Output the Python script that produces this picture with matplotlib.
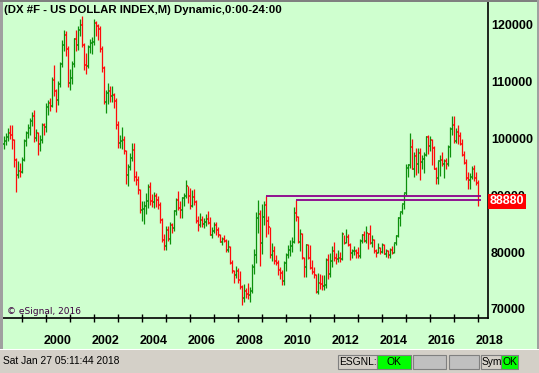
import numpy as np
import matplotlib
matplotlib.use("Agg")
import matplotlib.pyplot as plt
from matplotlib.collections import LineCollection
from matplotlib.patches import Rectangle

# monthly DX bars, Apr 1998 .. Jan 2018 (index points)
start_month = "1998-04"
first_open = 98.9
close = [
    99.4, 100.1, 100.9, 100.5, 99.6, 96.1, 93.5, 94.2, 94.0,                      # 1998 Apr-Dec
    96.2, 99.5, 100.9, 101.7, 102.9, 103.8, 100.0, 100.8, 98.9, 99.6, 102.2, 101.9,  # 1999
    105.5, 106.1, 105.6, 110.2, 108.3, 106.6, 109.5, 112.9, 116.3, 118.0, 115.6, 109.6,  # 2000
    110.6, 113.0, 117.3, 116.4, 119.0, 119.8, 116.3, 112.8, 112.6, 115.9, 116.6, 116.8,  # 2001
    120.2, 119.6, 119.1, 115.6, 112.3, 106.4, 107.9, 108.3, 107.4, 107.6, 106.5, 102.3,  # 2002
    99.2, 99.4, 99.6, 97.8, 93.5, 95.0, 96.5, 97.9, 93.1, 92.6, 90.8, 87.4,  # 2003
    87.6, 88.0, 88.9, 91.4, 88.9, 88.7, 89.9, 89.2, 88.3, 85.6, 82.1, 81.0,  # 2004
    83.8, 82.3, 84.7, 84.2, 87.2, 89.2, 87.8, 87.3, 89.4, 89.8, 91.5, 89.9,  # 2005
    88.0, 89.6, 88.7, 85.4, 84.8, 85.6, 85.0, 85.2, 85.8, 85.1, 83.0, 83.7,  # 2006
    84.8, 83.9, 83.0, 81.8, 82.2, 82.0, 80.3, 80.8, 78.1, 76.6, 76.0, 76.6,  # 2007
    75.0, 73.8, 72.0, 73.1, 72.7, 72.4, 73.1, 77.3, 79.4, 86.0, 86.6, 81.5,  # 2008
    86.2, 88.3, 85.4, 84.3, 79.5, 80.2, 78.4, 78.1, 76.8, 76.4, 74.9, 78.0,  # 2009
    79.5, 80.4, 81.0, 81.8, 86.8, 86.1, 81.7, 83.2, 79.0, 77.4, 81.2, 79.0,  # 2010
    77.2, 76.5, 75.9, 72.9, 74.6, 74.3, 74.0, 74.2, 78.6, 76.2, 78.5, 80.2,  # 2011
    79.0, 78.8, 79.0, 78.8, 83.2, 81.6, 82.6, 81.2, 79.9, 80.1, 80.2, 79.8,  # 2012
    79.3, 82.0, 83.0, 81.9, 83.4, 83.2, 81.5, 82.1, 80.2, 79.9, 80.7, 80.0,  # 2013
    81.2, 79.7, 80.1, 79.5, 80.4, 79.8, 81.5, 82.8, 86.0, 87.0, 88.4, 90.3,  # 2014
    94.8, 95.3, 98.4, 94.6, 96.9, 95.5, 97.3, 95.8, 96.4, 97.0, 100.2, 98.6,  # 2015
    99.6, 98.2, 94.6, 93.0, 95.9, 96.1, 95.5, 96.0, 95.4, 98.4, 101.5, 102.2,  # 2016
    99.5, 101.1, 100.4, 99.0, 97.0, 95.6, 92.9, 92.7, 93.1, 94.5, 93.0, 92.1,  # 2017
    88.88,  # 2018 Jan
]
high = [
    100.4, 100.9, 101.8, 102.2, 102.3, 99.9, 96.5, 96.0, 95.7,
    96.7, 99.8, 101.2, 102.5, 103.5, 104.6, 104.9, 101.6, 101.0, 100.5, 102.6, 102.7,
    106.2, 106.6, 107.0, 110.7, 112.8, 108.6, 110.0, 113.3, 117.2, 119.0, 118.8, 116.1,
    112.1, 113.5, 117.6, 118.9, 119.6, 120.8, 121.4, 116.7, 115.0, 116.3, 117.4, 117.8,
    120.9, 120.5, 120.0, 119.6, 116.2, 112.6, 108.4, 109.6, 109.1, 109.2, 107.9, 107.0,
    102.9, 100.6, 101.9, 100.3, 97.9, 95.5, 97.3, 99.2, 99.2, 94.2, 93.3, 91.1,
    89.0, 88.9, 90.4, 91.9, 92.2, 90.1, 90.6, 90.4, 89.9, 88.8, 86.0, 83.2,
    84.6, 84.6, 85.3, 85.1, 87.4, 89.5, 90.7, 88.9, 89.6, 90.3, 92.6, 91.6,
    91.3, 90.9, 91.0, 89.1, 86.3, 86.9, 86.4, 85.9, 86.6, 87.2, 86.2, 84.3,
    85.2, 85.2, 84.3, 83.2, 82.6, 82.9, 82.2, 82.1, 81.1, 78.6, 76.8, 77.6,
    77.2, 76.6, 74.2, 74.3, 73.7, 74.5, 73.9, 77.9, 80.5, 87.0, 89.2, 87.4,
    88.4, 89.0, 89.8, 86.3, 84.3, 81.5, 81.1, 79.5, 78.6, 77.3, 76.8, 78.5,
    79.9, 81.3, 82.1, 82.7, 87.9, 89.1, 86.3, 84.0, 83.4, 79.2, 81.4, 81.4,
    81.2, 78.6, 77.4, 76.2, 76.4, 76.1, 75.9, 76.0, 78.9, 79.6, 79.8, 81.0,
    81.8, 79.9, 80.3, 80.0, 83.5, 83.0, 84.1, 83.2, 81.6, 80.6, 81.0, 80.5,
    80.9, 82.2, 83.2, 83.6, 84.5, 83.4, 84.8, 82.9, 82.2, 80.6, 81.5, 80.9,
    81.5, 81.4, 80.6, 80.4, 80.7, 81.0, 81.6, 82.9, 86.1, 87.0, 88.5, 90.3,
    95.5, 95.5, 100.9, 99.9, 97.6, 98.3, 98.2, 98.3, 97.0, 97.5, 100.4, 100.5,
    100.3, 99.8, 98.6, 95.0, 96.0, 97.0, 97.6, 96.3, 96.5, 98.7, 102.0, 103.8,
    103.8, 101.8, 102.3, 101.0, 99.9, 97.8, 96.3, 94.1, 93.8, 95.1, 95.2, 94.0,
    92.7,
]
low = [
    98.0, 98.7, 99.4, 99.9, 98.0, 95.0, 90.6, 92.9, 93.1,
    93.8, 95.9, 98.6, 100.0, 100.6, 102.1, 99.3, 99.4, 97.0, 97.8, 99.2, 100.6,
    101.0, 104.1, 104.7, 105.4, 107.3, 104.6, 105.8, 108.9, 112.5, 115.2, 114.3, 109.0,
    108.5, 109.4, 112.4, 115.3, 115.5, 117.9, 115.9, 111.9, 111.2, 112.2, 114.9, 114.7,
    116.3, 117.9, 117.2, 115.1, 111.6, 106.0, 104.4, 106.0, 106.4, 106.3, 105.2, 101.6,
    98.3, 98.3, 98.0, 97.2, 91.9, 91.6, 94.3, 95.9, 92.5, 91.7, 90.1, 86.8,
    85.5, 84.9, 86.6, 87.8, 88.3, 87.9, 87.7, 87.9, 87.6, 85.1, 81.8, 80.4,
    80.4, 82.0, 81.4, 83.3, 83.6, 86.5, 87.3, 86.0, 86.0, 88.1, 89.4, 88.6,
    87.5, 87.9, 88.2, 85.1, 83.6, 84.3, 84.4, 84.2, 84.6, 84.9, 82.9, 82.4,
    83.4, 83.0, 82.7, 81.7, 81.3, 81.7, 80.0, 80.0, 77.9, 76.4, 74.6, 75.5,
    74.5, 73.5, 70.7, 71.3, 71.9, 71.7, 71.3, 72.8, 76.1, 78.1, 83.3, 77.6,
    79.6, 84.7, 82.6, 83.2, 79.0, 78.4, 77.9, 77.7, 76.0, 75.2, 74.2, 74.2,
    76.7, 79.0, 79.3, 80.0, 81.5, 85.5, 81.5, 80.2, 78.8, 75.6, 75.6, 78.8,
    77.0, 76.2, 75.5, 72.8, 72.7, 73.5, 73.4, 73.3, 73.6, 75.2, 75.6, 77.4,
    78.5, 77.9, 78.3, 78.3, 78.6, 81.4, 81.6, 81.0, 78.6, 78.9, 79.4, 79.0,
    78.9, 78.9, 81.6, 81.8, 81.5, 80.5, 81.4, 80.8, 79.9, 79.1, 79.9, 79.6,
    79.8, 79.6, 79.2, 78.9, 78.9, 79.7, 79.9, 81.2, 82.6, 84.5, 86.6, 87.6,
    90.0, 93.2, 94.8, 94.5, 93.1, 93.5, 93.9, 92.6, 94.5, 93.8, 96.9, 97.2,
    97.7, 95.2, 94.5, 91.9, 91.9, 93.4, 95.1, 93.0, 94.5, 95.1, 96.6, 100.6,
    99.2, 99.2, 98.9, 98.8, 96.8, 95.5, 92.7, 91.0, 91.0, 92.8, 92.5, 91.8,
    88.0,
]
# reference levels drawn from prior highs
level_start = ["2009-03", "2010-06"]
level_value = [89.8, 89.1]

title = "(DX #F - US DOLLAR INDEX,M) Dynamic,0:00-24:00"
y_ticks = [70000, 80000, 90000, 100000, 110000, 120000]
year_labels = list(range(2000, 2019, 2))

bg = "#cfffcf"
up_col = "#0c900c"
dn_col = "#ff0a0a"

W, H = 539, 373
fig = plt.figure(figsize=(W / 100, H / 100), dpi=100)
fig.patch.set_facecolor(bg)


def fx(px):
    return px / W


def fy(py):
    return 1 - py / H


def month_index(s):
    y0, m0 = map(int, start_month.split("-"))
    y, m = map(int, s.split("-"))
    return (y - y0) * 12 + (m - m0)


ax = fig.add_axes([fx(3), fy(318), fx(488) - fx(3), fy(2) - fy(318)])
ax.set_facecolor(bg)
ax.set_xlim(-0.5, 242)
ax.set_ylim(68421, 123860)

n = len(close)
x = np.arange(n)
c = np.array(close) * 1000
hi = np.array(high) * 1000
lo = np.array(low) * 1000
o = np.concatenate([[first_open * 1000], c[:-1]])
cols = [up_col if cc >= oo else dn_col for cc, oo in zip(c, o)]

verts = [[(i, l), (i, h)] for i, l, h in zip(x, lo, hi)]
ax.add_collection(LineCollection(verts, colors=cols, linewidths=0.9))
ticks_o = [[(i - 0.5, v), (i, v)] for i, v in zip(x, o)]
ticks_c = [[(i, v), (i + 0.55, v)] for i, v in zip(x, c)]
ax.add_collection(LineCollection(ticks_o, colors=cols, linewidths=1.1))
ax.add_collection(LineCollection(ticks_c, colors=cols, linewidths=1.1))

# horizontal level lines
for s, v in zip(level_start, level_value):
    ax.hlines(v * 1000, month_index(s), n + 0.5, color="#8b008b", lw=1.3, zorder=3)

# axes styling
for side in ["top", "left"]:
    ax.spines[side].set_visible(False)
ax.spines["right"].set_linewidth(1.2)
ax.spines["bottom"].set_linewidth(1.2)
ax.yaxis.tick_right()
ax.set_yticks(y_ticks)
ax.set_yticklabels([str(t) for t in y_ticks], fontsize=9, fontweight="bold",
                   family="Liberation Sans")
ax.tick_params(axis="y", length=0, pad=2)
ax.set_xticks(np.arange(month_index("1999-01"), n, 12))
ax.tick_params(axis="x", direction="inout", length=6, width=1, labelbottom=False)

tr = ax.get_xaxis_transform()
for yr in year_labels:
    xi = month_index(f"{yr}-01") + 6
    ax.text(xi, -23 / 316, str(yr), transform=tr, ha="center", va="center",
            fontsize=9, fontweight="bold", family="Liberation Sans", clip_on=False)

# last price box
ax.text(1.004, c[-1], f"{int(round(c[-1]))}", transform=ax.get_yaxis_transform(),
        ha="left", va="center", color="white", fontsize=9, fontweight="bold",
        family="Liberation Sans", clip_on=False, zorder=5,
        bbox=dict(boxstyle="square,pad=0.12", fc="#ff0000", ec="none"))

ax.text(4 / 485, 7 / 316, "\u00a9 eSignal, 2016", transform=ax.transAxes,
        fontsize=6.5, color="#3c0040", family="DejaVu Sans", va="center")

fig.text(fx(4), fy(10), title, fontsize=8.2, fontweight="bold",
         family="Liberation Sans", va="center", ha="left")

# window frame and status bar
fig.patches.append(Rectangle((0, 0), fx(3), 1, transform=fig.transFigure,
                             fc="#a0a0a0", ec="none"))
fig.patches.append(Rectangle((0, fy(2)), 1, 2 / H, transform=fig.transFigure,
                             fc="#808080", ec="none"))
fig.patches.append(Rectangle((fx(537), 0), fx(2), 1, transform=fig.transFigure,
                             fc="#a0a0a0", ec="none"))
fig.patches.append(Rectangle((0, 0), 1, 24 / H, transform=fig.transFigure,
                             fc="#d4d0c8", ec="none"))
fig.patches.append(Rectangle((0, 23 / H), 1, 1 / H, transform=fig.transFigure,
                             fc="#ffffff", ec="none"))
fig.text(fx(3), fy(361), "Sat Jan 27 05:11:44 2018", fontsize=7.4,
         family="Liberation Sans", va="center", ha="left")


def box(x0, x1, fc, label=None, align="center"):
    fig.patches.append(Rectangle((fx(x0), fy(369)), fx(x1) - fx(x0), 14 / H,
                                 transform=fig.transFigure, fc=fc, ec="#808080", lw=0.8))
    if label:
        xt = (fx(x0) + fx(x1)) / 2 if align == "center" else fx(x0 + 1)
        fig.text(xt, fy(362), label, fontsize=7.4, family="Liberation Sans",
                 ha=align, va="center")


box(338, 377, "#d4d0c8", "ESGNL:", "left")
box(377, 411, "#00ff00", "OK")
box(413, 446, "#c0c0c0")
box(449, 479, "#c0c0c0")
box(481, 501, "#d4d0c8", "Sym", "left")
box(501, 518, "#00ff00", "OK")

fig.savefig("out.png", dpi=100, facecolor=fig.get_facecolor())
